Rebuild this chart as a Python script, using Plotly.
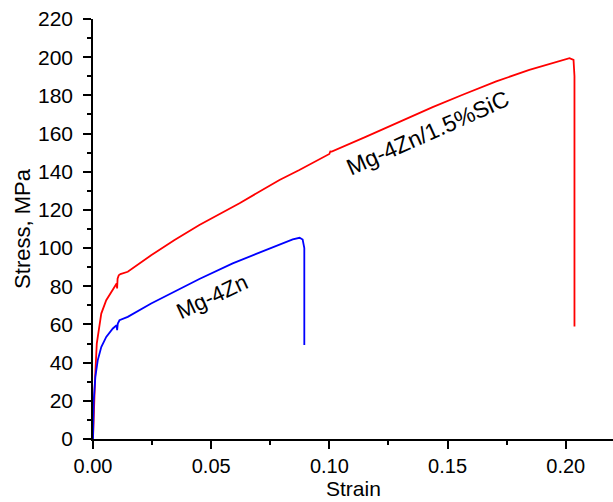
import plotly.graph_objects as go

# Mg-4Zn/1.5%SiC (red)
red_strain = [0, 0.0003, 0.0009, 0.0016, 0.0025, 0.0035, 0.0056, 0.0084, 0.0100, 0.0102, 0.0104,
              0.0109, 0.0116, 0.0147, 0.0176, 0.0246, 0.0345, 0.045, 0.062, 0.0789, 0.0873,
              0.1000, 0.1004, 0.1010, 0.1156, 0.1297, 0.1437, 0.1564, 0.1706, 0.1846, 0.1960,
              0.2016, 0.2033, 0.2037, 0.2037]
red_stress = [0, 15, 32.5, 50, 58.7, 65.7, 72.7, 78, 81.5, 78.9, 84,
              85.8, 86.4, 87.6, 90.2, 96.3, 104.2, 112.1, 123.5, 135.7, 140.9,
              149.3, 150.6, 150.5, 158.4, 166.3, 173.8, 180.3, 187.3, 193.4, 197.6,
              199.5, 198.6, 190, 58.9]

# Mg-4Zn (blue)
blue_strain = [0, 0.0003, 0.001, 0.002, 0.0035, 0.0056, 0.0084, 0.0100, 0.0102, 0.0105,
               0.0112, 0.0147, 0.0246, 0.0387, 0.045, 0.0591, 0.0733, 0.0845, 0.0874,
               0.0887, 0.0894, 0.0894]
blue_stress = [0, 20, 32.5, 41.2, 48.2, 53.5, 57.9, 59.6, 57, 60.5,
               62.2, 64, 71, 79.7, 83.8, 92, 98.9, 104.6, 105.4,
               104.5, 100, 49.3]

labels = ["Mg-4Zn/1.5%SiC", "Mg-4Zn"]
label_pos_x = [0.1415, 0.0505]
label_pos_y = [160.5, 74.8]
label_angle = [-24, -25]
label_size = [23, 22]

x_title = "Strain"
y_title = "Stress, MPa"

FONT = "Liberation Sans, Arial, Helvetica, sans-serif"

fig = go.Figure()
fig.add_trace(go.Scatter(x=red_strain, y=red_stress, mode="lines",
                         line=dict(color="#ff0000", width=1.8), name=labels[0]))
fig.add_trace(go.Scatter(x=blue_strain, y=blue_stress, mode="lines",
                         line=dict(color="#0000ff", width=1.8), name=labels[1]))

for t, ax_, ay_, ang, sz in zip(labels, label_pos_x, label_pos_y, label_angle, label_size):
    fig.add_annotation(x=ax_, y=ay_, xref="x", yref="y", text=t, showarrow=False,
                       textangle=ang, font=dict(size=sz, color="black", family=FONT))

# x-axis title placed at the bottom of the page
fig.add_annotation(x=0.5, y=-63 / 420, xref="paper", yref="paper", text=x_title,
                   showarrow=False, xanchor="center", yanchor="bottom",
                   font=dict(size=21, color="black", family=FONT))

fig.update_layout(
    width=613, height=502,
    margin=dict(l=93, r=0, t=19, b=63),
    paper_bgcolor="white", plot_bgcolor="white",
    showlegend=False,
    font=dict(family=FONT, size=21, color="black"),
    xaxis=dict(range=[0, 0.22], tickvals=[0, 0.05, 0.10, 0.15, 0.20],
               ticktext=["0.00", "0.05", "0.10", "0.15", "0.20"],
               tickfont=dict(size=20),
               ticks="outside", ticklen=8, tickwidth=1.5, tickcolor="black",
               ticklabelstandoff=0,
               minor=dict(dtick=0.025, tick0=0, ticks="outside", ticklen=4, tickwidth=1.5, tickcolor="black"),
               showline=True, linecolor="black", linewidth=1.5, showgrid=False, zeroline=False,
               automargin=False),
    yaxis=dict(range=[0, 220], dtick=20, tick0=0,
               ticks="outside", ticklen=8, tickwidth=1.5, tickcolor="black",
               ticklabelstandoff=6,
               minor=dict(dtick=10, tick0=0, ticks="outside", ticklen=4, tickwidth=1.5, tickcolor="black"),
               showline=True, linecolor="black", linewidth=1.5, showgrid=False, zeroline=False,
               automargin=False,
               title=dict(text=y_title, standoff=1, font=dict(size=22))),
)

fig.write_html("out.html", config={"displayModeBar": False},
               post_script="document.body.style.margin='0';")
